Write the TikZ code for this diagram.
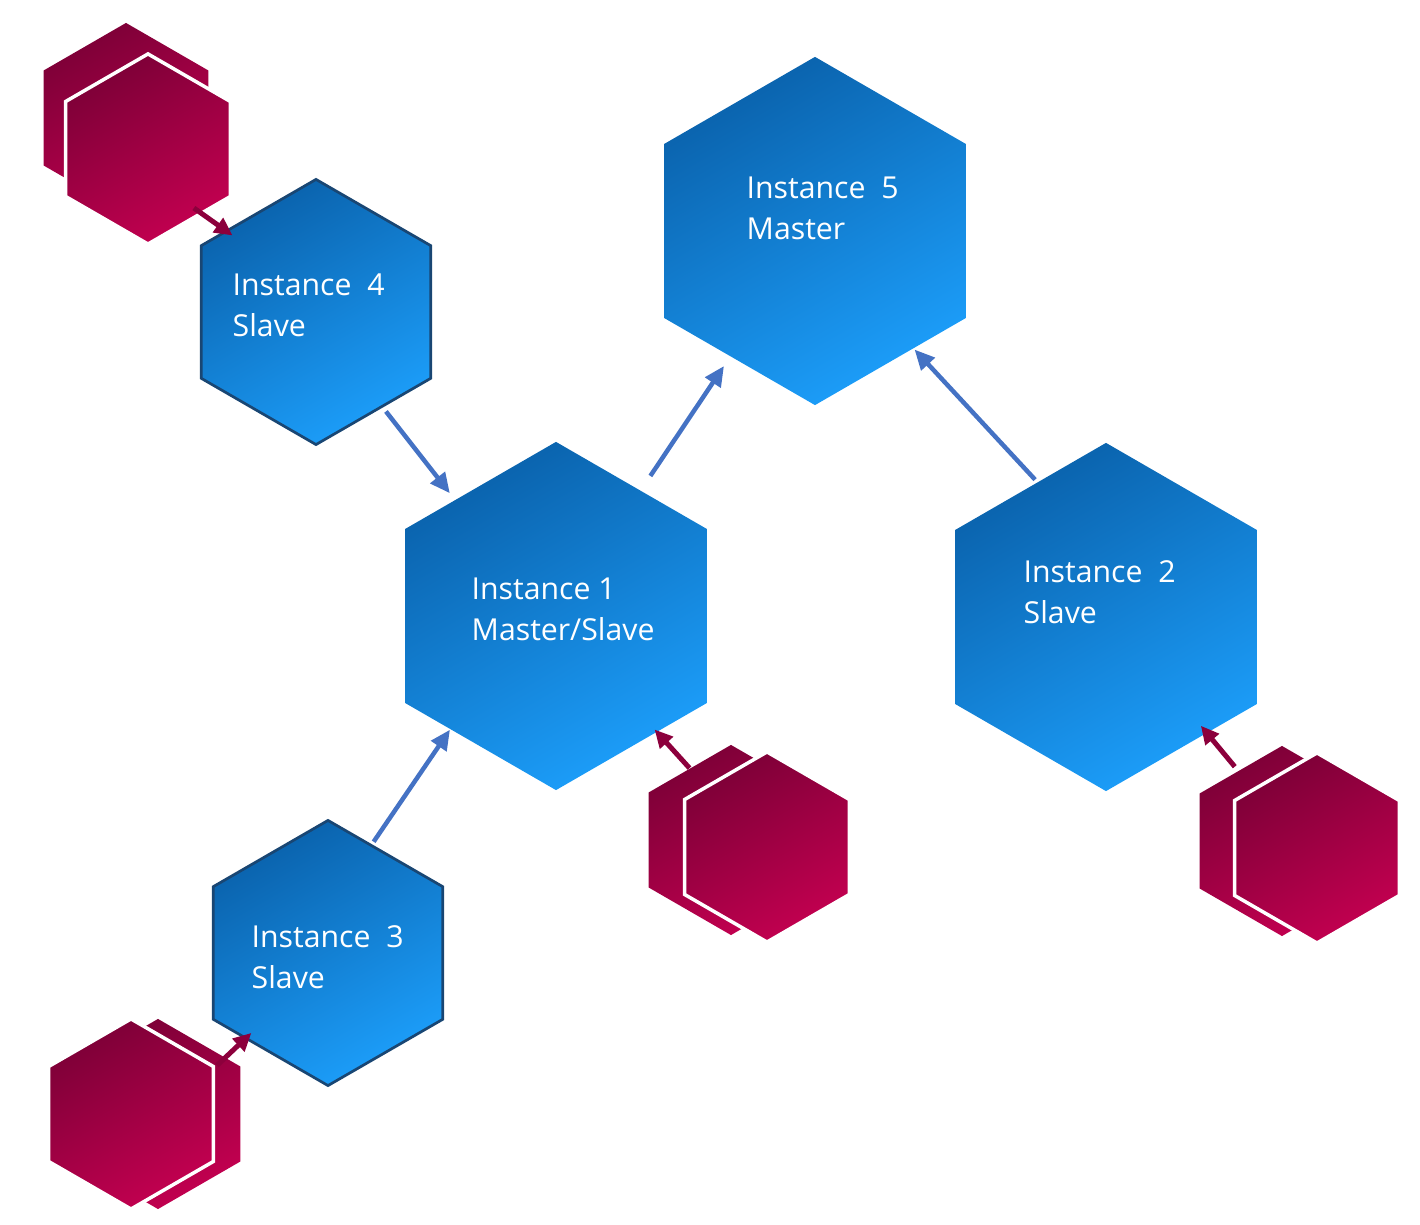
\documentclass[tikz,border=0pt]{standalone}
\usepackage{fontspec}
\setmainfont{Open Sans}
\usetikzlibrary{shapes.geometric,arrows.meta}

\definecolor{blueDark}{RGB}{10,98,172}
\definecolor{blueLight}{RGB}{28,158,250}
\definecolor{blueEdge}{RGB}{25,70,115}
\definecolor{pinkDark}{RGB}{125,0,55}
\definecolor{pinkLight}{RGB}{195,0,80}
\definecolor{linkBlue}{RGB}{68,114,196}
\definecolor{feedPink}{RGB}{140,0,60}

\begin{document}
\begin{tikzpicture}[
    x=0.01cm, y=-0.01cm,
    % Styles for the hexagons
    hexbase/.style={regular polygon, regular polygon sides=6, shape border rotate=90,
        inner sep=0pt},
    master/.style={hexbase, minimum size=3.48cm, top color=blueDark, bottom color=blueLight,
        shading angle=30},
    slave/.style={hexbase, minimum size=2.65cm, top color=blueDark, bottom color=blueLight,
        shading angle=30, draw=blueEdge, line width=0.027cm},
    store/.style={hexbase, minimum size=1.9cm, top color=pinkDark, bottom color=pinkLight,
        shading angle=30},
    storefront/.style={store, draw=white, line width=0.035cm},
    itext/.style={text=white, align=left, inner sep=0pt, anchor=base west,
        font=\fontsize{8.6pt}{11.67pt}\selectfont},
    % Styles for the arrows
    link/.style={-{Triangle[length=0.2cm,width=0.18cm]}, line width=0.045cm, draw=linkBlue},
    feed/.style={-{Triangle[length=0.18cm,width=0.17cm]}, line width=0.05cm, draw=feedPink}
]
    \useasboundingbox (0,0) rectangle (1420,1225);

    % Storage pairs (back one first)
    \node[store] (s4b) at (126,118) {};
    \node[storefront] (s4f) at (148,149) {};
    \node[store] (s1b) at (731,840) {};
    \node[storefront] (s1f) at (767,847) {};
    \node[store] (s2b) at (1282,841) {};
    \node[storefront] (s2f) at (1317,848) {};
    \node[store] (s3b) at (158,1114) {};
    \node[storefront] (s3f) at (131,1114) {};

    % Instances
    \node[master] (i5) at (815,231) {};
    \node[master] (i1) at (556,616) {};
    \node[master] (i2) at (1106,617) {};
    \node[slave] (i4) at (316,312) {};
    \node[slave] (i3) at (328,953) {};

    % Texts (base = last line)
    \node[itext] (t5) at (746,240) {Instance\ \ 5\\Master};
    \node[itext] (t4) at (232,337) {Instance\ \ 4\\Slave};
    \node[itext] (t1) at (471,641) {Instance 1\\Master/Slave};
    \node[itext] (t2) at (1023,624) {Instance\ \ 2\\Slave};
    \node[itext] (t3) at (251,989) {Instance\ \ 3\\Slave};

    % Replication links
    \draw[link, shorten <=0.05cm, shorten >=0.08cm] (i4.-55) -- (i1.131);
    \draw[link, shorten <=0.17cm, shorten >=0.11cm] (i1.56) -- (i5.-124);
    \draw[link, shorten <=0.03cm, shorten >=0.01cm] (i2.117) -- (i5.-50);
    \draw[link, shorten <=0.03cm] (i3.68) -- (i1.-133);

    % Storage feeds
    \draw[feed, shorten <=-0.11cm, shorten >=-0.09cm] (s4f.-50) -- (i4.138);
    \draw[feed, shorten >=-0.04cm] (s1b.120) -- (i1.-49);
    \draw[feed, shorten <=0.05cm, shorten >=-0.10cm] (s2b.122) -- (i2.-49);
    \draw[feed, shorten <=-0.12cm, shorten >=-0.09cm] (s3b.40) -- (i3.-134);

\end{tikzpicture}
\end{document}
